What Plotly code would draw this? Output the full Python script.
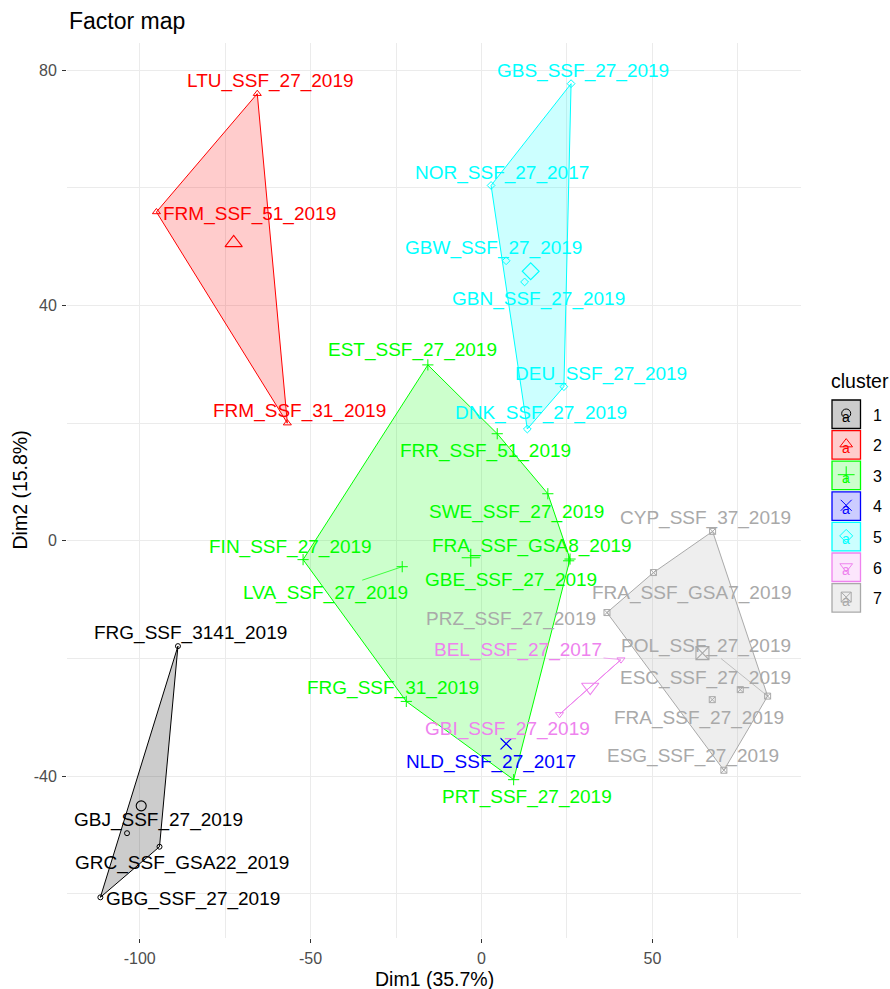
import plotly.graph_objects as go

# ---------------- data ----------------
labels = [
    "FRG_SSF_3141_2019", "GBJ_SSF_27_2019", "GRC_SSF_GSA22_2019", "GBG_SSF_27_2019",
    "LTU_SSF_27_2019", "FRM_SSF_51_2019", "FRM_SSF_31_2019",
    "EST_SSF_27_2019", "FRR_SSF_51_2019", "SWE_SSF_27_2019", "FRA_SSF_GSA8_2019",
    "GBE_SSF_27_2019", "FIN_SSF_27_2019", "LVA_SSF_27_2019", "FRG_SSF_31_2019",
    "PRT_SSF_27_2019",
    "NLD_SSF_27_2017",
    "GBS_SSF_27_2019", "NOR_SSF_27_2017", "GBW_SSF_27_2019", "GBN_SSF_27_2019",
    "DEU_SSF_27_2019", "DNK_SSF_27_2019",
    "BEL_SSF_27_2017", "GBI_SSF_27_2019",
    "CYP_SSF_37_2019", "FRA_SSF_GSA7_2019", "PRZ_SSF_27_2019", "POL_SSF_27_2019",
    "ESC_SSF_27_2019", "FRA_SSF_27_2019", "ESG_SSF_27_2019",
]
dim1 = [
    -88.8, -103.7, -94.2, -111.5,
    -65.6, -95.1, -56.8,
    -15.7, 4.6, 19.4, 25.9,
    25.5, -52.2, -23.2, -22.0,
    9.4,
    7.2,
    26.2, 2.8, 7.2, 12.6,
    24.1, 13.4,
    40.8, 22.8,
    67.6, 50.3, 36.7, 83.7,
    75.7, 67.5, 70.9,
]
dim2 = [
    -17.9, -49.7, -52.0, -60.6,
    76.0, 55.9, 20.0,
    29.9, 18.2, 8.0, -3.1,
    -3.4, -3.2, -4.4, -27.3,
    -40.6,
    -34.5,
    77.7, 60.4, 47.6, 44.0,
    26.2, 19.0,
    -20.2, -29.5,
    1.6, -5.4, -12.2, -26.4,
    -25.3, -27.0, -39.0,
]
cluster = [
    1, 1, 1, 1,
    2, 2, 2,
    3, 3, 3, 3, 3, 3, 3, 3, 3,
    4,
    5, 5, 5, 5, 5, 5,
    6, 6,
    7, 7, 7, 7, 7, 7, 7,
]
cluster_ids = [1, 2, 3, 4, 5, 6, 7]
dim1_pct = 35.7
dim2_pct = 15.8

# ---------------- style ----------------
colors = {1: (0, 0, 0), 2: (255, 0, 0), 3: (0, 255, 0), 4: (0, 0, 255),
          5: (0, 255, 255), 6: (238, 130, 238), 7: (169, 169, 169)}
symbols = {1: "circle-open", 2: "triangle-up-open", 3: "cross-thin-open",
           4: "x-thin-open", 5: "diamond-open", 6: "triangle-down-open",
           7: "square-x-open"}
pt_size = {1: 5, 2: 7, 3: 8, 4: 11, 5: 6, 6: 7, 7: 6}
ctr_size = {1: 10, 2: 15, 3: 13, 4: 11, 5: 13, 6: 15, 7: 13}
key_size = {1: 9, 2: 11, 3: 12, 4: 11, 5: 10, 6: 11, 7: 10}

# label placement (pixel offsets of label centre from its point, repel segment flag)
label_offset = {
    "FRG_SSF_3141_2019": (13, -13, False), "GBJ_SSF_27_2019": (31, -13, False),
    "GRC_SSF_GSA22_2019": (22, 16, False), "GBG_SSF_27_2019": (93, 2, False),
    "LTU_SSF_27_2019": (13, -13, False), "FRM_SSF_51_2019": (93, 2, False),
    "FRM_SSF_31_2019": (12, -12, False),
    "EST_SSF_27_2019": (-15, -15, False), "FRR_SSF_51_2019": (-12, 17, False),
    "SWE_SSF_27_2019": (-31, 18, False), "FRA_SSF_GSA8_2019": (-38, -13, False),
    "GBE_SSF_27_2019": (-58, 19, False), "FIN_SSF_27_2019": (-13, -13, False),
    "LVA_SSF_27_2019": (-77, 26, True), "FRG_SSF_31_2019": (-13, -13, False),
    "PRT_SSF_27_2019": (13, 17, False),
    "NLD_SSF_27_2017": (-15, 18, False),
    "GBS_SSF_27_2019": (12, -13, False), "NOR_SSF_27_2017": (11, -12, False),
    "GBW_SSF_27_2019": (-13, -13, False), "GBN_SSF_27_2019": (14, 17, False),
    "DEU_SSF_27_2019": (37, -13, False), "DNK_SSF_27_2019": (14, -16, False),
    "BEL_SSF_27_2017": (-103, -10, True), "GBI_SSF_27_2019": (-52, 15, False),
    "CYP_SSF_37_2019": (-7, -13, False), "FRA_SSF_GSA7_2019": (39, 20, False),
    "PRZ_SSF_27_2019": (-96, 6, False), "POL_SSF_27_2019": (-62, -50, True),
    "ESC_SSF_27_2019": (-35, -12, False), "FRA_SSF_27_2019": (-13, 18, False),
    "ESG_SSF_27_2019": (-31, -14, False),
}

FONT = "Liberation Sans, Arial, sans-serif"


def rgb(c, a=1.0):
    return f"rgba({c[0]},{c[1]},{c[2]},{a})"


def hull(pts):
    pts = sorted(set(pts))
    if len(pts) <= 2:
        return pts

    def cross(o, a, b):
        return (a[0] - o[0]) * (b[1] - o[1]) - (a[1] - o[1]) * (b[0] - o[0])

    lower, upper = [], []
    for p in pts:
        while len(lower) >= 2 and cross(lower[-2], lower[-1], p) <= 0:
            lower.pop()
        lower.append(p)
    for p in reversed(pts):
        while len(upper) >= 2 and cross(upper[-2], upper[-1], p) <= 0:
            upper.pop()
        upper.append(p)
    return lower[:-1] + upper[:-1]


fig = go.Figure()

# hulls
for k in cluster_ids:
    pts = [(x, y) for x, y, c in zip(dim1, dim2, cluster) if c == k]
    h = hull(pts)
    if len(h) < 2:
        continue
    hx = [p[0] for p in h] + [h[0][0]]
    hy = [p[1] for p in h] + [h[0][1]]
    fig.add_trace(go.Scatter(
        x=hx, y=hy, mode="lines", fill="toself",
        fillcolor=rgb(colors[k], 0.2), line=dict(color=rgb(colors[k]), width=1),
        hoverinfo="skip", showlegend=False))

# points
for k in cluster_ids:
    xs = [x for x, c in zip(dim1, cluster) if c == k]
    ys = [y for y, c in zip(dim2, cluster) if c == k]
    fig.add_trace(go.Scatter(
        x=xs, y=ys, mode="markers",
        marker=dict(symbol=symbols[k], size=pt_size[k], color=rgb(colors[k]),
                    line=dict(color=rgb(colors[k]), width=1)),
        showlegend=False))

# cluster centres
for k in cluster_ids:
    xs = [x for x, c in zip(dim1, cluster) if c == k]
    ys = [y for y, c in zip(dim2, cluster) if c == k]
    fig.add_trace(go.Scatter(
        x=[sum(xs) / len(xs)], y=[sum(ys) / len(ys)], mode="markers",
        marker=dict(symbol=symbols[k], size=ctr_size[k], color=rgb(colors[k]),
                    line=dict(color=rgb(colors[k]), width=1.1)),
        showlegend=False))

annotations = []
for name, x, y, c in zip(labels, dim1, dim2, cluster):
    dx, dy, seg = label_offset[name]
    annotations.append(dict(
        x=x, y=y, xref="x", yref="y", text=name, showarrow=True,
        ax=dx, ay=dy, axref="pixel", ayref="pixel", arrowhead=0,
        arrowwidth=0.7, standoff=1,
        arrowcolor=rgb(colors[c]) if seg else "rgba(0,0,0,0)",
        xanchor="center", yanchor="middle",
        font=dict(family=FONT, size=19, color=rgb(colors[c]))))

# ------------- manual ggplot-style legend on a pixel-mapped axis -------------
W, H = 890, 989
ML, MR, MT, MB = 67, 0, 43, 51
plot_w = W - ML - MR
plot_h = H - MT - MB
panel_right = 801
leg_x0 = 825


def px_x(p):
    return (p - ML) / plot_w


def px_y(p):
    return (H - MB - p) / plot_h


shapes = []
key_top = 400.0
key_pitch = 30.6
for i, k in enumerate(cluster_ids):
    y0 = key_top + i * key_pitch
    shapes.append(dict(type="rect", xref="x2", yref="y2", x0=832, x1=860.5,
                       y0=y0, y1=y0 + 28.5, fillcolor=rgb(colors[k], 0.2),
                       line=dict(color=rgb(colors[k]), width=1.3), layer="below"))
    fig.add_trace(go.Scatter(
        x=[846.2], y=[y0 + 13.5], xaxis="x2", yaxis="y2", mode="markers",
        marker=dict(symbol=symbols[k], size=key_size[k], color=rgb(colors[k]),
                    line=dict(color=rgb(colors[k]), width=1)),
        showlegend=False, hoverinfo="skip"))
    annotations.append(dict(x=846.2, y=y0 + 17, xref="x2", yref="y2", text="a",
                            showarrow=False, xanchor="center", yanchor="middle",
                            font=dict(family=FONT, size=14, color=rgb(colors[k]))))
    annotations.append(dict(x=px_x(870.5), y=px_y(y0 + 15), xref="paper",
                            yref="paper", text=str(k),
                            showarrow=False, xanchor="left", yanchor="middle",
                            font=dict(family=FONT, size=16, color="black")))
annotations.append(dict(x=px_x(829), y=px_y(381), xref="paper", yref="paper",
                        text="cluster", showarrow=False, xanchor="left",
                        yanchor="middle",
                        font=dict(family=FONT, size=19.5, color="black")))

# title and axis titles
annotations.append(dict(x=px_x(67), y=px_y(21), xref="paper", yref="paper",
                        text="Factor map", showarrow=False,
                        xanchor="left", yanchor="middle",
                        font=dict(family=FONT, size=23, color="black")))
annotations.append(dict(x=px_x((ML + panel_right) / 2), y=px_y(978.5), xref="paper",
                        yref="paper", text=f"Dim1 ({dim1_pct}%)", showarrow=False,
                        xanchor="center", yanchor="middle",
                        font=dict(family=FONT, size=19.5, color="black")))
annotations.append(dict(x=px_x(19), y=px_y((MT + H - MB) / 2), xref="paper",
                        yref="paper", text=f"Dim2 ({dim2_pct}%)", showarrow=False,
                        textangle=-90, xanchor="center", yanchor="middle",
                        font=dict(family=FONT, size=19.5, color="black")))

# ggplot-like 5% expansion of the data range
xmin, xmax = min(dim1), max(dim1)
ymin, ymax = min(dim2), max(dim2)
xr = [xmin - 0.05 * (xmax - xmin), xmax + 0.05 * (xmax - xmin)]
yr = [ymin - 0.05 * (ymax - ymin), ymax + 0.05 * (ymax - ymin)]

grid = "#EBEBEB"
fig.update_layout(
    width=W, height=H,
    margin=dict(l=ML, r=MR, t=MT, b=MB, pad=0),
    paper_bgcolor="white", plot_bgcolor="white",
    font=dict(family=FONT),
    showlegend=False,
    shapes=shapes,
    annotations=annotations,
    xaxis=dict(
        domain=[0, px_x(panel_right)], range=xr, automargin=False,
        tickvals=[-100, -50, 0, 50], ticktext=["-100", "-50", "0", "50"],
        showgrid=True, gridcolor=grid, gridwidth=1.1,
        minor=dict(tickvals=[-75, -25, 25, 75], showgrid=True, gridcolor=grid,
                   gridwidth=0.55, ticks=""),
        zeroline=False, showline=False, ticks="outside", ticklen=4,
        tickwidth=1, tickcolor="#333333", ticklabelstandoff=2,
        tickfont=dict(family=FONT, size=16, color="#4D4D4D"),
    ),
    yaxis=dict(
        domain=[0, 1], range=yr, automargin=False,
        tickvals=[-40, 0, 40, 80], ticktext=["-40", "0", "40", "80"],
        showgrid=True, gridcolor=grid, gridwidth=1.1,
        minor=dict(tickvals=[-60, -20, 20, 60], showgrid=True, gridcolor=grid,
                   gridwidth=0.55, ticks=""),
        zeroline=False, showline=False, ticks="outside", ticklen=4,
        tickwidth=1, tickcolor="#333333", ticklabelstandoff=2,
        tickfont=dict(family=FONT, size=16, color="#4D4D4D"),
    ),
    xaxis2=dict(domain=[px_x(leg_x0), 1], range=[leg_x0, W], automargin=False,
                visible=False, anchor="y2", fixedrange=True),
    yaxis2=dict(domain=[0, 1], range=[H - MB, MT], visible=False, automargin=False,
                anchor="x2", fixedrange=True),
)

fig.write_html(
    "out.html",
    config={"displayModeBar": False},
    post_script="document.body.style.margin='0';document.body.style.overflow='hidden';",
)
